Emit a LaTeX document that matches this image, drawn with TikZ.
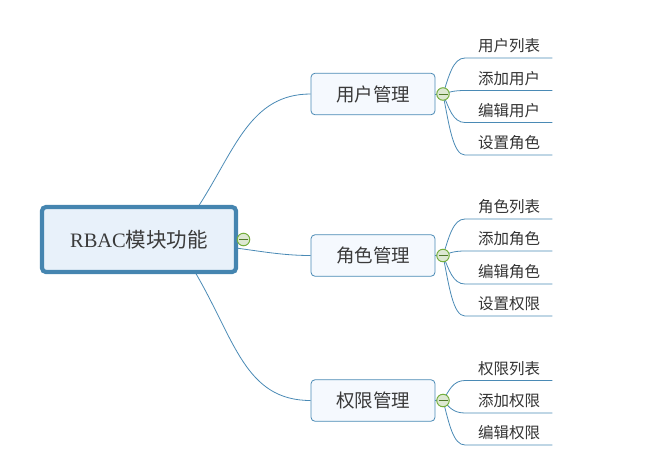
\documentclass[tikz,border=0pt]{standalone}
\usepackage{fontspec}
\setmainfont{Liberation Serif}
\newfontfamily\cjk{Noto Sans CJK SC}
\definecolor{linkblue}{HTML}{4A8AB5}
\definecolor{rootedge}{HTML}{4585B0}
\definecolor{rootfill}{HTML}{E8F1FA}
\definecolor{subfill}{HTML}{F5F9FE}
\definecolor{textgray}{HTML}{3A3A3A}
\definecolor{toggleedge}{HTML}{74AE3C}
\definecolor{togglefill}{HTML}{DDE8D2}
\tikzset{
  x=1pt,y=-1pt,
  rootbox/.style={draw=rootedge,line width=4.2pt,fill=rootfill,rounded corners=4pt,minimum width=194pt,minimum height=65pt,inner sep=0pt,text=textgray,font=\fontsize{20.5}{24}\selectfont},
  subbox/.style={draw=linkblue,line width=0.8pt,fill=subfill,rounded corners=4pt,minimum width=124pt,minimum height=41.5pt,inner sep=0pt,text=textgray,font=\cjk\fontsize{18.5}{22}\selectfont},
  leafbox/.style={anchor=south west,minimum width=87pt,minimum height=24pt,inner sep=0pt,text=black!80,font=\cjk\fontsize{15.5}{18}\selectfont},
  link/.style={draw=linkblue,line width=0.8pt},
  toggle/.style={circle,draw=toggleedge,line width=1pt,fill=togglefill,minimum size=12.5pt,inner sep=0pt,
    path picture={\draw[toggleedge!70!black,line width=1pt] ([xshift=-4.5pt]path picture bounding box.center) -- ([xshift=4.5pt]path picture bounding box.center);}},
}
\newcommand{\leafrow}[5]{%
  \node[leafbox] (#1) at (465,#2) {\makebox[87pt][l]{\hspace{13pt}#3}};
  \draw[link] (#4) .. controls (449,{(#5+#2)/2}) and (453,#2) .. (#1.south west) -- (#1.south east);
}
\begin{document}
\begin{tikzpicture}
\useasboundingbox (0,0) rectangle (657,475);
\coordinate (rt) at (198,207);
\coordinate (rm) at (236,248);
\coordinate (rb) at (195,272);
\node[subbox] (s1) at (373,94) {用户管理};
\node[subbox] (s2) at (373,255.5) {角色管理};
\node[subbox] (s3) at (373,400.5) {权限管理};
\draw[link] (rt) .. controls (235,150) and (250,94) .. (s1.west);
\draw[link] (rm) .. controls (265,252) and (285,255.5) .. (s2.west);
\draw[link] (rb) .. controls (235,340) and (245,400.5) .. (s3.west);
\node[rootbox] (root) at (139,239.5) {RBAC{\cjk 模块功能}};
\node[toggle] (t0) at (243.5,239.5) {};
\coordinate (c1) at (443,94);
\coordinate (c2) at (443,255.5);
\coordinate (c3) at (443,400.5);
\draw[link] (s1.east) -- (c1);
\draw[link] (s2.east) -- (c2);
\draw[link] (s3.east) -- (c3);
\leafrow{a1}{58}{用户列表}{c1}{94}
\leafrow{a2}{90.5}{添加用户}{c1}{94}
\leafrow{a3}{122.5}{编辑用户}{c1}{94}
\leafrow{a4}{155}{设置角色}{c1}{94}
\leafrow{b1}{219}{角色列表}{c2}{255.5}
\leafrow{b2}{251}{添加角色}{c2}{255.5}
\leafrow{b3}{284}{编辑角色}{c2}{255.5}
\leafrow{b4}{316}{设置权限}{c2}{255.5}
\leafrow{d1}{380.5}{权限列表}{c3}{400.5}
\leafrow{d2}{413}{添加权限}{c3}{400.5}
\leafrow{d3}{445}{编辑权限}{c3}{400.5}
\node[toggle] (t1) at (c1) {};
\node[toggle] (t2) at (c2) {};
\node[toggle] (t3) at (c3) {};
\end{tikzpicture}
\end{document}
